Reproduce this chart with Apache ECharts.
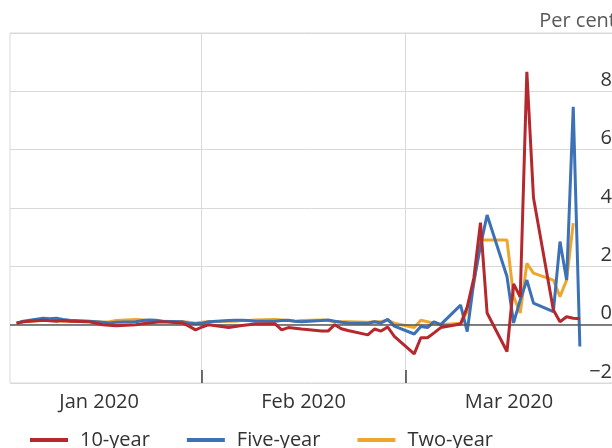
<!DOCTYPE html>
<html><head><meta charset="utf-8">
<script src="https://cdn.jsdelivr.net/npm/echarts@6/dist/echarts.min.js"></script>
<style>html,body{margin:0;padding:0;background:#fff}#c{width:612px;height:448px}</style>
</head><body><div id="c"></div>
<script>
const dates = [
 '2020-01-02','2020-01-03','2020-01-06','2020-01-07','2020-01-08','2020-01-09','2020-01-10',
 '2020-01-13','2020-01-14','2020-01-15','2020-01-16','2020-01-17','2020-01-20','2020-01-21',
 '2020-01-22','2020-01-23','2020-01-24','2020-01-27','2020-01-28','2020-01-29','2020-01-30','2020-01-31',
 '2020-02-03','2020-02-04','2020-02-05','2020-02-06','2020-02-07','2020-02-10','2020-02-11',
 '2020-02-12','2020-02-13','2020-02-14','2020-02-17','2020-02-18','2020-02-19','2020-02-20',
 '2020-02-21','2020-02-24','2020-02-25','2020-02-26','2020-02-27','2020-02-28',
 '2020-03-02','2020-03-03','2020-03-04','2020-03-05','2020-03-06','2020-03-09','2020-03-10',
 '2020-03-11','2020-03-12','2020-03-13','2020-03-16','2020-03-17','2020-03-18','2020-03-19',
 '2020-03-20','2020-03-23','2020-03-24','2020-03-25','2020-03-26','2020-03-27'
];
const tenYear = [
 0.05,0.1,0.15,0.13,0.12,0.14,0.12,0.1,0.05,0.0,-0.02,-0.04,0.0,0.03,0.06,0.08,0.1,0.06,-0.05,-0.18,-0.08,0.0,
 -0.1,-0.06,-0.03,0.0,0.02,0.03,-0.18,-0.1,-0.12,-0.15,-0.22,-0.22,0.0,-0.14,-0.2,-0.35,-0.15,-0.22,-0.08,-0.4,
 -1.0,-0.45,-0.45,-0.28,-0.1,0.02,0.6,1.6,3.5,0.4,-0.92,1.4,0.95,8.67,4.35,0.5,0.1,0.27,0.22,0.2
];
const fiveYear = [
 0.05,0.12,0.22,0.2,0.22,0.18,0.15,0.12,0.1,0.08,0.06,0.08,0.1,0.14,0.16,0.15,0.12,0.1,0.05,0.03,0.05,0.1,
 0.14,0.15,0.15,0.14,0.12,0.12,0.14,0.15,0.12,0.1,0.14,0.16,0.12,0.08,0.06,0.05,0.1,0.06,0.18,-0.05,
 -0.32,-0.06,-0.1,0.1,0.0,0.67,-0.24,1.47,2.7,3.76,1.65,0.06,0.85,1.53,0.74,0.45,2.85,1.53,7.47,-0.75
];
const twoYear = [
 0.05,0.1,0.15,0.15,0.14,0.12,0.12,0.1,0.1,0.08,0.1,0.14,0.18,0.16,0.14,0.12,0.12,0.1,0.08,0.05,0.08,0.1,
 0.12,0.12,0.14,0.14,0.16,0.18,0.16,0.14,0.12,0.14,0.16,0.14,0.1,0.1,0.1,0.08,0.1,0.1,0.15,0.05,
 -0.1,0.15,0.1,0.05,0.0,0.05,0.45,1.43,2.9,2.9,2.9,0.96,0.4,2.1,1.77,1.53,0.96,1.53,3.48,null
];
const seriesNames = ['10-year','Five-year','Two-year'];
const monthLabels = ['Jan 2020','Feb 2020','Mar 2020'];
const monthLabelDays = [13.45, 44.3, 75.3];
const monthTickDays = [28.87, 59.71];
const yMin = -2, yMax = 10, yStep = 2;
const unitLabel = 'Per cent';

const DAY0 = Date.UTC(2020,0,1);
function dayNum(s){ const p = s.split('-').map(Number); return (Date.UTC(p[0],p[1]-1,p[2]) - DAY0)/864e5; }
function pairs(vals){ return dates.map((d,i)=>[dayNum(d), vals[i]]); }

const FONT = 'Open Sans';
const chart = echarts.init(document.getElementById('c'), null, {renderer:'canvas'});
const colors = ['#B5282D','#3C71B7','#EEA62C'];
function lineSeries(name, vals, color, z){
  return {name, type:'line', data:pairs(vals), showSymbol:false, symbol:'none', z,
    lineStyle:{color, width:3}, itemStyle:{color}, connectNulls:false, clip:true, animation:false};
}
chart.setOption({
  animation:false,
  textStyle:{fontFamily:FONT},
  grid:{left:10, right:-1, top:33, bottom:65, show:true, borderColor:'#d9d9d9', borderWidth:1,
    containLabel:false, outerBoundsMode:'none'},
  graphic:[{type:'text', right:-4, top:11, silent:true,
    style:{text:unitLabel, fontFamily:FONT, fontSize:20, fill:'#595959'}}],
  legend:{data:seriesNames, left:25, top:425, icon:'rect', itemWidth:38, itemHeight:4, itemGap:37,
    textStyle:{fontFamily:FONT, fontSize:20, color:'#333', padding:[0,0,0,7]}},
  xAxis:{type:'value', min:0, max:91,
    axisLine:{show:false, onZero:false},
    axisTick:{show:true, inside:true, length:13, customValues:monthTickDays, lineStyle:{color:'#404040', width:1.5}},
    splitLine:{show:true, lineStyle:{color:'#d9d9d9', width:1}},
    axisLabel:{customValues:monthLabelDays, margin:9, fontFamily:FONT, fontSize:20, color:'#333',
      formatter:(v)=>{let b=0;for(let i=1;i<monthLabelDays.length;i++){if(Math.abs(monthLabelDays[i]-v)<Math.abs(monthLabelDays[b]-v))b=i;}return monthLabels[b];}}
  },
  yAxis:{type:'value', position:'right', min:yMin, max:yMax, interval:yStep,
    axisLine:{show:false}, axisTick:{show:false},
    splitLine:{show:true, lineStyle:{color:'#d9d9d9', width:1}},
    axisLabel:{inside:true, margin:1, showMaxLabel:false, verticalAlign:'bottom', padding:[0,0,1,0],
      fontFamily:FONT, fontSize:20, color:'#333', formatter:(v)=> v<0 ? '\u2212'+Math.abs(v) : String(v)}
  },
  series:[
    {name:'zero', type:'line', data:[], z:1, silent:true,
      markLine:{silent:true, symbol:'none', label:{show:false}, animation:false,
        lineStyle:{color:'#595959', width:1.5, type:'solid'}, data:[{yAxis:0}]}},
    lineSeries(seriesNames[0], tenYear, colors[0], 5),
    lineSeries(seriesNames[1], fiveYear, colors[1], 4),
    lineSeries(seriesNames[2], twoYear, colors[2], 3)
  ]
});
</script></body></html>
